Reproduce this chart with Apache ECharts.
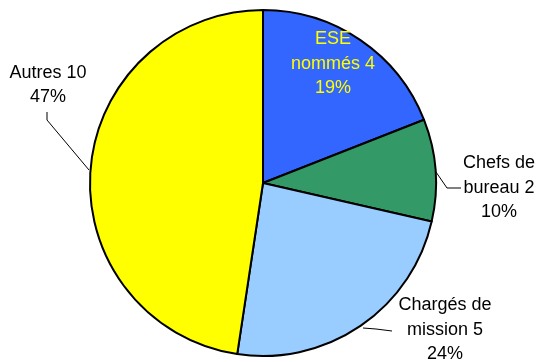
<!DOCTYPE html>
<html><head><meta charset="utf-8">
<script src="https://cdn.jsdelivr.net/npm/echarts@6/dist/echarts.min.js"></script>
<style>html,body{margin:0;padding:0;background:#fff}#c{width:539px;height:362px}</style>
</head><body><div id="c"></div>
<script>
const categories = ['ESE\nnommés', 'Chefs de\nbureau', 'Chargés de\nmission', 'Autres'];
const values = [4, 2, 5, 10];
const percentLabels = ['19%', '10%', '24%', '47%'];
const colors = ['#3366FF', '#339966', '#99CCFF', '#FFFF00'];

// label layout (positions in px)
const labelPos = [
  {x: 333, y: 64, line: null},
  {x: 499, y: 188, line: [[436, 172], [447, 188], [461, 188]]},
  {x: 445, y: 330, line: [[363, 328], [376, 329], [392, 331]]},
  {x: 48, y: 85, line: [[89, 170], [47, 120], [47, 112]]}
];

const chart = echarts.init(document.getElementById('c'));
chart.setOption({
  animation: false,
  series: [{
    type: 'pie',
    center: [263, 183],
    radius: 173,
    startAngle: 90,
    clockwise: true,
    data: categories.map((n, i) => ({
      name: n, value: values[i],
      itemStyle: {color: colors[i]},
      label: i === 0 ? {color: '#FFFF00'} : {color: '#000'},
      labelLine: {show: i !== 0}
    })),
    itemStyle: {borderColor: '#000', borderWidth: 2},
    label: {
      show: true,
      position: 'outside',
      alignTo: 'none',
      overflow: 'none',
      fontFamily: 'Liberation Sans, Arial, sans-serif',
      fontSize: 18,
      lineHeight: 24.5,
      align: 'center',
      formatter: p => p.name + ' ' + p.value + '\n' + percentLabels[p.dataIndex]
    },
    labelLine: {show: true, lineStyle: {color: '#000', width: 1}},
    labelLayout: function (params) {
      const L = labelPos[params.dataIndex];
      const r = {x: L.x, y: L.y, align: 'center', verticalAlign: 'middle'};
      if (L.line) r.labelLinePoints = L.line;
      return r;
    },
    emphasis: {disabled: true}
  }]
});
</script></body></html>
